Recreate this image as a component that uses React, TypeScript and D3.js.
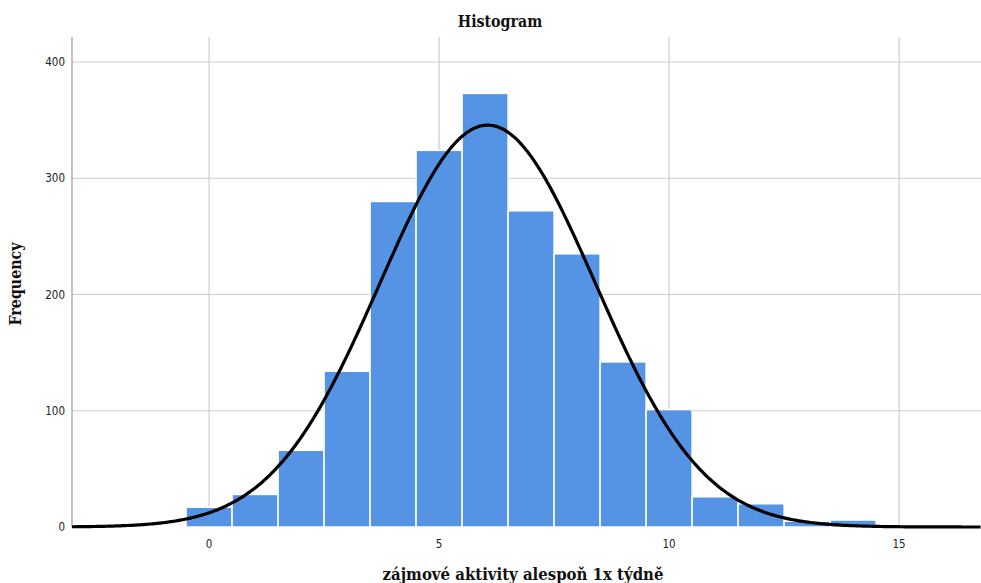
import React from "react";
import * as d3 from "d3";

// histogram bins (centered on integers), counts
const binCenters = [0, 1, 2, 3, 4, 5, 6, 7, 8, 9, 10, 11, 12, 13, 14];
const counts = [17, 28, 66, 134, 280, 324, 373, 272, 235, 142, 101, 26, 20, 5, 6];
const xTicks = [0, 5, 10, 15];
const yTicks = [0, 100, 200, 300, 400];

const W = 981;
const H = 583;
const left = 72;
const right = 981;
const top = 37;
const bottom = 527;

const titleFont = "'DejaVu Serif Condensed', 'DejaVu Serif', serif";

export default function App() {
  const x = d3.scaleLinear().domain([-2.98, 16.78]).range([left, right]);
  const y = d3.scaleLinear().domain([0, 421.5]).range([bottom, top]);

  // normal curve from the binned data
  const n = d3.sum(counts);
  const mean = d3.sum(binCenters.map((c, i) => c * counts[i])) / n;
  const variance =
    d3.sum(binCenters.map((c, i) => (c - mean) ** 2 * counts[i])) / (n - 1);
  const sd = Math.sqrt(variance);
  const pts = d3.range(-2.98, 16.8, 0.05).map((v) => [
    v,
    (n / (sd * Math.sqrt(2 * Math.PI))) * Math.exp(-((v - mean) ** 2) / (2 * sd * sd)),
  ]);
  const line = d3
    .line<number[]>()
    .x((d) => x(d[0]))
    .y((d) => y(d[1]))
    .curve(d3.curveBasis);

  return (
    <div style={{ position: "absolute", left: 0, top: 0 }}>
      <svg width={W} height={H} style={{ display: "block", background: "#fff" }}>
        <text
          x={500}
          y={27}
          textAnchor="middle"
          fontFamily={titleFont}
          fontWeight="bold"
          fontSize={15.8}
          fill="#111"
        >
          Histogram
        </text>

        {/* gridlines */}
        {yTicks.slice(1).map((t) => (
          <line key={"gy" + t} x1={left} x2={right} y1={y(t)} y2={y(t)} stroke="#cdcdcd" strokeWidth={1.2} />
        ))}
        {xTicks.map((t) => (
          <line key={"gx" + t} x1={x(t)} x2={x(t)} y1={top} y2={bottom} stroke="#cdcdcd" strokeWidth={1.2} />
        ))}

        {/* y axis */}
        <line x1={left} x2={left} y1={top} y2={bottom} stroke="#9a9a9a" strokeWidth={1.2} />
        {yTicks.map((t) => (
          <text
            key={"ty" + t}
            x={left - 7}
            y={y(t)}
            dy="0.35em"
            textAnchor="end"
            fontFamily="'DejaVu Sans Condensed', 'DejaVu Sans', sans-serif"
            fontSize={11.5}
            fill="#222"
          >
            {t}
          </text>
        ))}
        {xTicks.map((t) => (
          <text
            key={"tx" + t}
            x={x(t)}
            y={548}
            textAnchor="middle"
            fontFamily="'DejaVu Sans Condensed', 'DejaVu Sans', sans-serif"
            fontSize={11.5}
            fill="#222"
          >
            {t}
          </text>
        ))}

        {/* bars */}
        {binCenters.map((c, i) => (
          <rect
            key={"b" + c}
            x={x(c - 0.5)}
            y={y(counts[i])}
            width={x(c + 0.5) - x(c - 0.5)}
            height={bottom - y(counts[i])}
            fill="#5594e4"
            stroke="#ffffff"
            strokeWidth={1.5}
          />
        ))}

        {/* normal curve */}
        <path d={line(pts) || ""} fill="none" stroke="#000" strokeWidth={3.2} />

        <text
          transform={`translate(21, ${(top + bottom) / 2 + 2}) rotate(-90)`}
          textAnchor="middle"
          fontFamily={titleFont}
          fontWeight="bold"
          fontSize={15.8}
          fill="#111"
        >
          Frequency
        </text>
        <text
          x={523}
          y={580}
          textAnchor="middle"
          fontFamily={titleFont}
          fontWeight="bold"
          fontSize={16.6}
          fill="#111"
        >
          zájmové aktivity alespoň 1x týdně
        </text>
      </svg>
    </div>
  );
}
